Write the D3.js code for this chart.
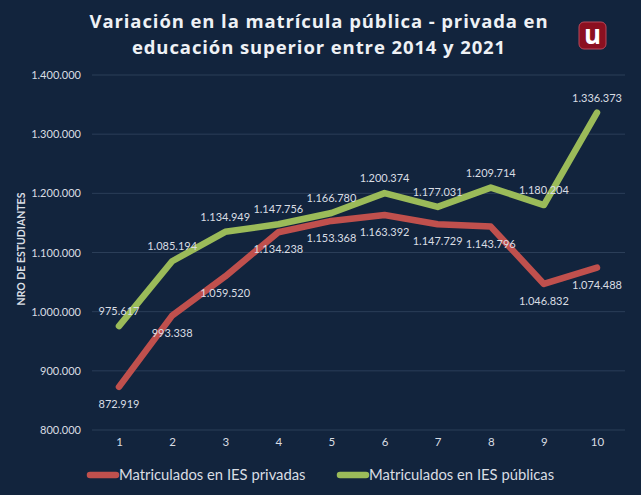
<!DOCTYPE html>
<html><head><meta charset="utf-8">
<script src="https://cdn.jsdelivr.net/npm/d3@7"></script>
<style>
html,body{margin:0;padding:0;background:#12243d;}
svg{display:block;}
</style></head>
<body>
<svg id="chart" width="641" height="495"></svg>
<script>
const categories = ["1","2","3","4","5","6","7","8","9","10"];
const privadas = [872919, 993338, 1059520, 1134238, 1153368, 1163392, 1147729, 1143796, 1046832, 1074488];
const publicas = [975617, 1085194, 1134949, 1147756, 1166780, 1200374, 1177031, 1209714, 1180204, 1336373];
const yTicks = [800000, 900000, 1000000, 1100000, 1200000, 1300000, 1400000];
const seriesNames = ["Matriculados en IES privadas", "Matriculados en IES públicas"];
const titleLines = ["Variación en la matrícula pública - privada en", "educación superior entre 2014 y 2021"];
const yAxisTitle = "NRO DE ESTUDIANTES";

const colors = ["#c0504d", "#9bbb59"];
const textCol = "#d9dde3";
const font = "Lato, 'Open Sans', sans-serif";

const svg = d3.select("#chart");
svg.append("rect").attr("width",641).attr("height",495).attr("fill","#12243d");

const fmt = v => d3.format(",")(v).replace(/,/g, ".");

const x = d3.scalePoint().domain(categories).range([119, 597]);
const y = d3.scaleLinear().domain([800000, 1400000]).range([430, 75]);

// grid
svg.append("g").selectAll("line").data(yTicks).join("line")
  .attr("x1", 92).attr("x2", 625)
  .attr("y1", d => y(d)).attr("y2", d => y(d))
  .attr("stroke", "#2b3e58").attr("stroke-width", 1);

// y axis
const yAxis = d3.axisLeft(y).tickValues(yTicks).tickFormat(fmt).tickSize(0).tickPadding(0);
const gy = svg.append("g").attr("transform", "translate(81,0)").call(yAxis);
gy.select(".domain").remove();
gy.selectAll("text").attr("fill", textCol).attr("font-family", font).attr("font-size", 11);

// x axis
const xAxis = d3.axisBottom(x).tickSize(0).tickPadding(0);
const gx = svg.append("g").attr("transform", "translate(0,438)").call(xAxis);
gx.select(".domain").remove();
gx.selectAll("text").attr("fill", textCol).attr("font-family", font).attr("font-size", 11.5);

// y axis title
svg.append("text").attr("transform", "translate(25,249) rotate(-90)")
  .attr("text-anchor", "middle").attr("fill", textCol).attr("font-family", font)
  .attr("font-weight", "bold").attr("font-size", 10.5).text(yAxisTitle);

// lines
const line = d3.line().x((d,i) => x(categories[i])).y(d => y(d));
[privadas, publicas].forEach((s, k) => {
  svg.append("path").datum(s).attr("d", line).attr("fill", "none")
    .attr("stroke", colors[k]).attr("stroke-width", 6.5)
    .attr("stroke-linecap", "round").attr("stroke-linejoin", "round");
});

// labels
[privadas, publicas].forEach((s, k) => {
  svg.append("g").selectAll("text").data(s).join("text")
    .attr("x", (d,i) => x(categories[i]))
    .attr("y", d => k === 0 ? y(d) + 21 : y(d) - 11)
    .attr("text-anchor", "middle").attr("fill", textCol)
    .attr("font-family", font).attr("font-size", 11)
    .text(d => fmt(d));
});

// title
titleLines.forEach((t, i) => {
  svg.append("text").attr("x", 319).attr("y", 28 + i * 26)
    .attr("text-anchor", "middle").attr("fill", "#eef1f5")
    .attr("font-family", "'Open Sans', sans-serif").attr("font-weight", "bold")
    .attr("font-size", 18.5).attr("letter-spacing", 0.9).text(t);
});

// logo
const logo = svg.append("g");
logo.append("rect").attr("x", 579).attr("y", 22).attr("width", 27).attr("height", 27)
  .attr("rx", 5).attr("fill", "#8c1020").attr("stroke", "#b8485a").attr("stroke-width", 1);
logo.append("text").attr("x", 592.5).attr("y", 44).attr("text-anchor", "middle")
  .attr("fill", "#ffffff").attr("font-family", "'Open Sans', sans-serif").attr("font-weight", "bold")
  .attr("font-size", 26).text("u");

// legend
const legX = [87, 337];
seriesNames.forEach((n, k) => {
  svg.append("line").attr("x1", legX[k] + 3).attr("x2", legX[k] + 29)
    .attr("y1", 475).attr("y2", 475).attr("stroke", colors[k]).attr("stroke-width", 6.5)
    .attr("stroke-linecap", "round");
  svg.append("text").attr("x", legX[k] + 32).attr("y", 480)
    .attr("fill", textCol).attr("font-family", font).attr("font-size", 14.8).text(n);
});
</script>
</body></html>
